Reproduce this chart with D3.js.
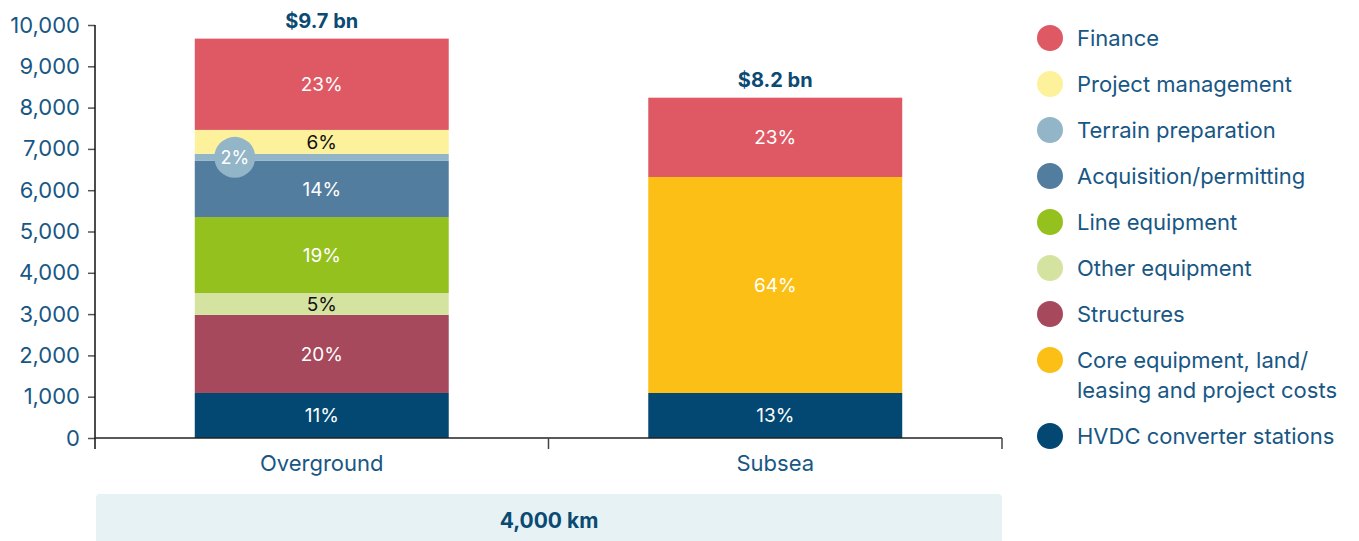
<!DOCTYPE html>
<html><head><meta charset="utf-8">
<script src="https://cdn.jsdelivr.net/npm/d3@7"></script>
<style>
html,body{margin:0;padding:0;background:#fff;}
svg{display:block;font-family:Inter,"Noto Sans",sans-serif;}
</style></head><body>
<svg id="c" width="1359" height="541"></svg>
<script>
const categories = ["Overground", "Subsea"];
const seriesNames = ["HVDC converter stations","Structures","Other equipment","Line equipment","Acquisition/permitting","Terrain preparation","Project management","Core equipment, land/ leasing and project costs","Finance"];
// values in $ millions, stacked bottom to top
const overgroundValues = [1090, 1890, 530, 1840, 1360, 170, 580, 0, 2210];
const subseaValues     = [1090, 0, 0, 0, 0, 0, 0, 5230, 1920];
const overgroundPct = ["11%","20%","5%","19%","14%","2%","6%","","23%"];
const subseaPct     = ["13%","","","","","","","64%","23%"];
const totalLabels = ["$9.7 bn", "$8.2 bn"];
const yTicks = [0,1000,2000,3000,4000,5000,6000,7000,8000,9000,10000];
const legendOrder = ["Finance","Project management","Terrain preparation","Acquisition/permitting","Line equipment","Other equipment","Structures","Core equipment, land/ leasing and project costs","HVDC converter stations"];
const distanceLabel = "4,000 km";

const colors = {
  "Finance":"#DE5964","Project management":"#FDF29B","Terrain preparation":"#93B5C8",
  "Acquisition/permitting":"#527D9E","Line equipment":"#95C11F","Other equipment":"#D5E3A1",
  "Structures":"#A6495C","Core equipment, land/ leasing and project costs":"#FBBF16",
  "HVDC converter stations":"#024873"
};
const darkText = new Set(["Project management","Other equipment"]);
const txtColor = "#185784";

const svg = d3.select("#c");
const x0 = 95, x1 = 1002, yTop = 25, yBot = 438;
const x = d3.scaleBand().domain(categories).range([x0, x1]).paddingInner(0.44).paddingOuter(0.22);
const y = d3.scaleLinear().domain([0, 10000]).range([yBot, yTop]);

const rows = categories.map((c, i) => {
  const o = {cat: c};
  const vals = i === 0 ? overgroundValues : subseaValues;
  seriesNames.forEach((s, j) => o[s] = vals[j]);
  return o;
});
const stack = d3.stack().keys(seriesNames)(rows);

// bottom band
svg.append("rect").attr("x", 96).attr("y", 494).attr("width", 906).attr("height", 60)
  .attr("rx", 4).attr("fill", "#E6F2F4");
svg.append("text").attr("x", (96 + 1002) / 2).attr("y", 528).attr("text-anchor", "middle")
  .attr("font-size", 21).attr("font-weight", 700).attr("fill", "#0A4A73").text(distanceLabel);

// bars
stack.forEach((layer, j) => {
  const name = seriesNames[j];
  svg.append("g").selectAll("rect").data(layer).join("rect")
    .attr("x", d => x(d.data.cat)).attr("width", x.bandwidth())
    .attr("y", d => y(d[1])).attr("height", d => y(d[0]) - y(d[1]))
    .attr("fill", colors[name]);
});

// percentage labels
stack.forEach((layer, j) => {
  const name = seriesNames[j];
  layer.forEach((d, i) => {
    const lab = (i === 0 ? overgroundPct : subseaPct)[j];
    if (!lab || d[1] - d[0] <= 0) return;
    const cy = (y(d[0]) + y(d[1])) / 2;
    if (name === "Terrain preparation") {
      const cx = x(d.data.cat) + 40;
      svg.append("circle").attr("cx", cx).attr("cy", cy).attr("r", 20.5).attr("fill", colors[name]);
      svg.append("text").attr("x", cx).attr("y", cy).attr("dy", "0.36em").attr("text-anchor", "middle")
        .attr("font-size", 18).attr("fill", "#fff").text(lab);
      return;
    }
    svg.append("text").attr("x", x(d.data.cat) + x.bandwidth() / 2).attr("y", cy).attr("dy", "0.36em")
      .attr("text-anchor", "middle").attr("font-size", 19)
      .attr("fill", darkText.has(name) ? "#111" : "#fff").text(lab);
  });
});

// totals
categories.forEach((c, i) => {
  const tot = d3.sum(i === 0 ? overgroundValues : subseaValues);
  svg.append("text").attr("x", x(c) + x.bandwidth() / 2).attr("y", y(tot) - 11)
    .attr("text-anchor", "middle").attr("font-size", 20).attr("font-weight", 700)
    .attr("fill", "#0A4A73").text(totalLabels[i]);
});

// y axis
const yAxis = svg.append("g").attr("transform", `translate(${x0},0)`)
  .call(d3.axisLeft(y).tickValues(yTicks).tickFormat(d3.format(",")).tickSize(7).tickPadding(8));
yAxis.select(".domain").remove();
yAxis.selectAll(".tick line").attr("stroke", "#555").attr("stroke-width", 1.5);
yAxis.selectAll("text").attr("font-size", 22).attr("fill", txtColor).attr("font-family", "Inter,sans-serif");
svg.append("line").attr("x1", x0).attr("x2", x0).attr("y1", yTop).attr("y2", 449)
  .attr("stroke", "#111").attr("stroke-width", 1.5);

// x axis
svg.append("line").attr("x1", x0).attr("x2", x1).attr("y1", yBot).attr("y2", yBot)
  .attr("stroke", "#222").attr("stroke-width", 1.5);
[548.5, x1].forEach(t => svg.append("line").attr("x1", t).attr("x2", t).attr("y1", yBot).attr("y2", 449)
  .attr("stroke", "#444").attr("stroke-width", 1.5));
categories.forEach(c => {
  svg.append("text").attr("x", x(c) + x.bandwidth() / 2).attr("y", 471).attr("text-anchor", "middle")
    .attr("font-size", 22).attr("fill", txtColor).text(c);
});

// legend
const lg = svg.append("g");
let ly = 38;
legendOrder.forEach(name => {
  lg.append("circle").attr("cx", 1050).attr("cy", ly).attr("r", 13).attr("fill", colors[name]);
  const parts = name.split(" leasing");
  const t = lg.append("text").attr("x", 1077).attr("y", ly).attr("dy", "0.36em")
    .attr("font-size", 22).attr("fill", txtColor);
  if (parts.length > 1) {
    t.append("tspan").attr("x", 1077).text(parts[0].trim());
    t.append("tspan").attr("x", 1077).attr("dy", 30).text("leasing" + parts[1]);
    ly += 30;
  } else t.text(name);
  ly += 46;
});
</script></body></html>
